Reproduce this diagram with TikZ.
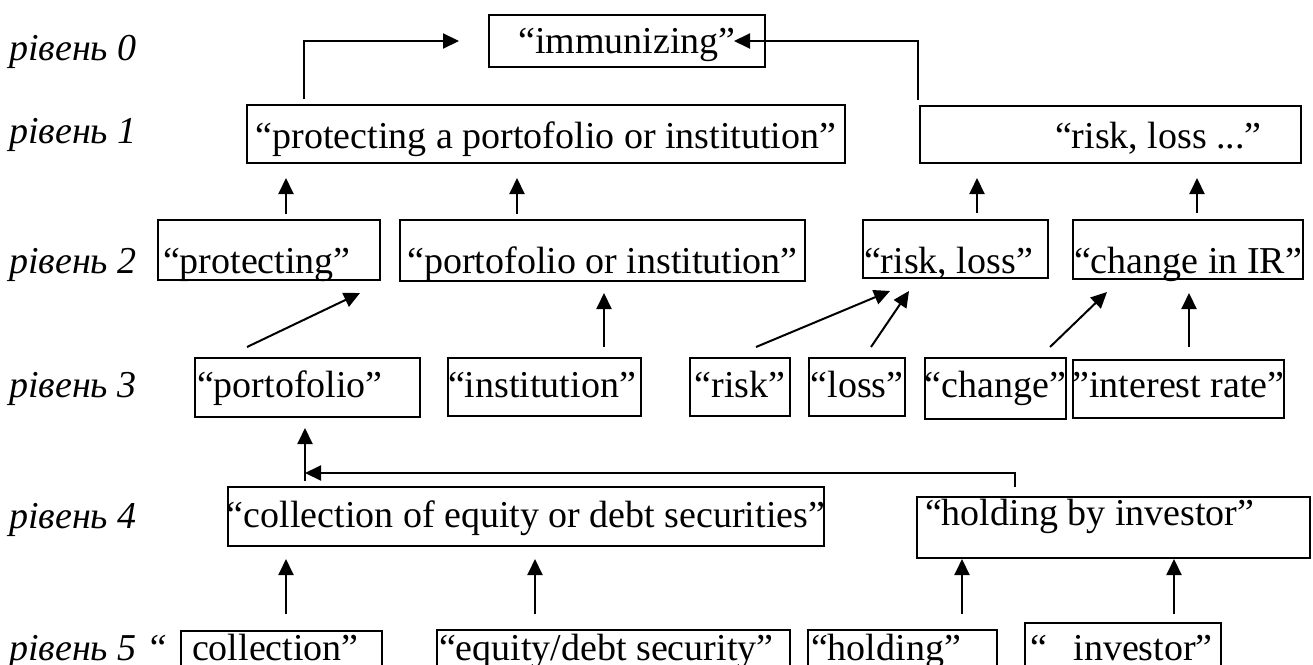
\documentclass[tikz,border=0pt]{standalone}
\usepackage{fontspec}
\setmainfont{Liberation Serif}
\usetikzlibrary{arrows.meta,calc}
\begin{document}
\begin{tikzpicture}[x=1pt,y=1pt,
  every node/.style={font=\fontsize{38}{44}\selectfont},
  box/.style={draw, line width=2pt, inner sep=0pt, anchor=base west},
  lvl/.style={anchor=base west, inner sep=0pt, font=\fontsize{38}{44}\selectfont\itshape},
  arr/.style={line width=2pt, -{Triangle[length=16pt,width=15pt]}}]
\useasboundingbox (0,0) rectangle (1313,-664);
\clip (0,0) rectangle (1313,-664);
% level labels
\node[lvl] (l0) at (9,-60) {рівень 0};
\node[lvl] (l1) at (9,-143) {рівень 1};
\node[lvl] (l2) at (9,-273) {рівень 2};
\node[lvl] (l3) at (9,-397) {рівень 3};
\node[lvl] (l4) at (9,-528) {рівень 4};
\node[lvl] (l5) at (9,-660) {рівень 5 “};
% level 0
\node[box, text height=38pt, text depth=14pt] (imm) at (488,-53) {\makebox[276pt][c]{“immunizing”}};
% level 1
\node[box, text height=43pt, text depth=15pt] (prot1) at (246,-148) {\makebox[598pt][c]{“protecting a portofolio or institution”}};
\node[box, text height=42pt, text depth=15pt] (risk1) at (919,-148) {\makebox[381pt][l]{\hspace*{135pt}“risk, loss ...”}};
% level 2
\node[box, text height=53pt, text depth=7pt] (prot2) at (157,-273) {\makebox[222pt][l]{\hspace*{5pt}“protecting”}};
\node[box, text height=53pt, text depth=8pt] (port2) at (399,-273) {\makebox[405pt][c]{“portofolio or institution”}};
\node[box, text height=53pt, text depth=5pt] (risk2) at (862,-273) {\makebox[185pt][l]{\hspace*{1pt}“risk, loss”}};
\node[box, text height=53pt, text depth=6pt] (chg2) at (1072,-273) {\makebox[230pt][c]{“change in IR”}};
% level 3
\node[box, text height=39pt, text depth=20pt] (port3) at (194,-397) {\makebox[225pt][l]{\hspace*{2pt}“portofolio”}};
\node[box, text height=39pt, text depth=19pt] (inst3) at (447,-397) {\makebox[193pt][l]{“institution”}};
\node[box, text height=39pt, text depth=19pt] (risk3) at (689,-397) {\makebox[100pt][c]{“risk”}};
\node[box, text height=39pt, text depth=19pt] (loss3) at (808,-397) {\makebox[96pt][c]{“loss”}};
\node[box, text height=39pt, text depth=22pt] (chg3) at (924,-397) {\makebox[141pt][c]{“change”}};
\node[box, text height=37pt, text depth=21pt] (int3) at (1072,-397) {\makebox[211pt][c]{”interest rate”}};
% level 4
\node[box, text height=40pt, text depth=19pt] (coll4) at (227,-527) {\makebox[596pt][c]{“collection of equity or debt securities”}};
\node[box, text height=28pt, text depth=33pt] (hold4) at (916,-525) {\makebox[393pt][l]{\hspace*{8pt}“holding by investor”}};
% level 5
\node[box, text height=29pt, text depth=40pt] (coll5) at (180,-660) {\makebox[201pt][l]{\hspace*{11pt}collection”}};
\node[box, text height=30pt, text depth=40pt] (eq5) at (436,-660) {\makebox[353pt][l]{\hspace*{2pt}“equity/debt security”}};
\node[box, text height=30pt, text depth=40pt] (hold5) at (807,-660) {\makebox[189pt][l]{\hspace*{3pt}“holding”}};
\node[box, text height=37pt, text depth=40pt] (inv5) at (1024,-660) {\makebox[196pt][l]{\hspace*{5pt}“\hspace{0.7em}investor”}};
% connectors level 1 -> 0
\draw[arr] ($(prot1.north west)+(58,5)$) |- ([xshift=-29pt]imm.west);
\draw[arr] ($(risk1.north west)+(-1,5)$) |- ([xshift=-32pt]imm.east);
% level 2 -> 1
\draw[arr, shorten <=5pt, shorten >=14pt] (prot2.north -| 286,0) -- (prot1.south -| 286,0);
\draw[arr, shorten <=5pt, shorten >=14pt] (port2.north -| 517,0) -- (prot1.south -| 517,0);
\draw[arr, shorten <=6pt, shorten >=14pt] (risk2.north -| 977,0) -- (risk1.south -| 977,0);
\draw[arr, shorten <=6pt, shorten >=14pt] (chg2.north -| 1197,0) -- (risk1.south -| 1197,0);
% level 3 -> 2
\draw[arr] ($(port3.north west)+(53,10)$) -- ($(prot2.south west)+(203,-12)$);
\draw[arr, shorten <=10pt, shorten >=11pt] (inst3.north -| 604,0) -- (port2.south -| 604,0);
\draw[arr] ($(risk3.north west)+(67,10)$) -- ($(risk2.south west)+(28,-12)$);
\draw[arr] ($(loss3.north west)+(63,10)$) -- ($(risk2.south west)+(47,-12)$);
\draw[arr] ($(chg3.north west)+(126,10)$) -- ($(chg2.south west)+(35,-12)$);
\draw[arr, shorten <=12pt, shorten >=13pt] (int3.north -| 1189,0) -- (chg2.south -| 1189,0);
% level 4 -> 3
\draw[arr, shorten <=5pt, shorten >=10pt] (coll4.north -| 305,0) -- (port3.south -| 305,0);
\draw[arr] ($(hold4.north west)+(99,9)$) |- ($(port3.south west)+(111,-55)$);
% level 5 -> 4
\draw[arr, shorten <=16pt, shorten >=12pt] (coll5.north -| 286,0) -- (coll4.south -| 286,0);
\draw[arr, shorten <=15pt, shorten >=12pt] (eq5.north -| 535,0) -- (coll4.south -| 535,0);
\draw[arr, shorten <=15pt] (hold5.north -| 962,0) -- (hold4.south -| 962,0);
\draw[arr, shorten <=8pt] (inv5.north -| 1174,0) -- (hold4.south -| 1174,0);
\end{tikzpicture}
\end{document}
